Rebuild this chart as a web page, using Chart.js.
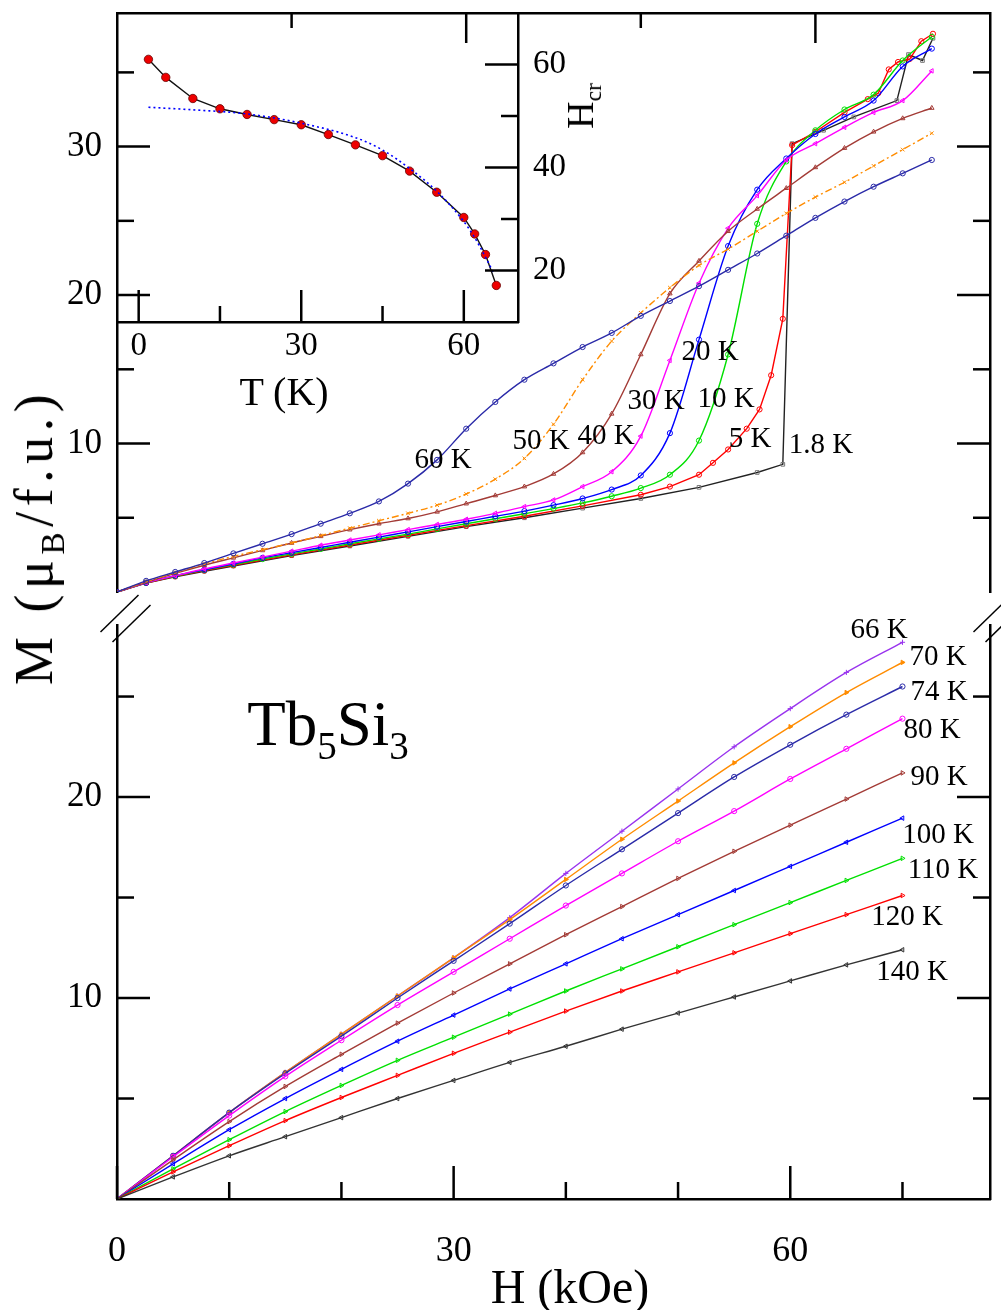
<!DOCTYPE html>
<html>
<head>
<meta charset="utf-8">
<title>Tb5Si3 magnetization</title>
<script src="https://cdn.jsdelivr.net/npm/chart.js@4.4.1/dist/chart.umd.min.js"></script>
<style>
  body { margin: 0; background: #fff; }
  #page { position: relative; width: 1001px; height: 1310px; overflow: hidden;
          font-family: "Liberation Serif", "Times New Roman", serif; color: #000; }
  #page canvas { position: absolute; left: 0; top: 0; }
  .lbl { position: absolute; transform: translate(-50%, -50%); white-space: nowrap; line-height: 1; font-size: 29px; }
  .rot { position: absolute; white-space: nowrap; line-height: 1; transform: translate(-50%, -50%) rotate(-90deg); }
  .sb { position: relative; font-size: 0.62em; top: 0.35em; }
</style>
</head>
<body>
<div id="page">
  <canvas id="upperChart" width="1001" height="1310"></canvas>
  <canvas id="lowerChart" width="1001" height="1310"></canvas>
  <canvas id="insetChart" width="1001" height="1310"></canvas>

  <!-- curve labels, upper panel -->
  <div class="lbl" style="left:443px;top:458px">60 K</div>
  <div class="lbl" style="left:541px;top:439px">50 K</div>
  <div class="lbl" style="left:606px;top:434px">40 K</div>
  <div class="lbl" style="left:656px;top:399px">30 K</div>
  <div class="lbl" style="left:710px;top:350px">20 K</div>
  <div class="lbl" style="left:726px;top:397px">10 K</div>
  <div class="lbl" style="left:750px;top:437px">5 K</div>
  <div class="lbl" style="left:821px;top:443px">1.8 K</div>

  <!-- curve labels, lower panel -->
  <div class="lbl" style="left:879px;top:628px">66 K</div>
  <div class="lbl" style="left:938px;top:655px">70 K</div>
  <div class="lbl" style="left:939px;top:690px">74 K</div>
  <div class="lbl" style="left:932px;top:728px">80 K</div>
  <div class="lbl" style="left:939px;top:775px">90 K</div>
  <div class="lbl" style="left:938px;top:833px">100 K</div>
  <div class="lbl" style="left:943px;top:868px">110 K</div>
  <div class="lbl" style="left:907px;top:915px">120 K</div>
  <div class="lbl" style="left:912px;top:970px">140 K</div>

  <!-- titles -->
  <div class="lbl" style="left:284px;top:392px;font-size:40px">T (K)</div>
  <div class="lbl" style="left:570px;top:1287px;font-size:48px">H (kOe)</div>
  <div class="rot" style="left:34px;top:537px;font-size:54px;letter-spacing:5.5px">M (μ<span class="sb">B</span>/f.u.)</div>
  <div class="rot" style="left:580px;top:106px;font-size:38px">H<span class="sb">cr</span></div>
  <div class="lbl" style="left:328px;top:724px;font-size:63px">Tb<span class="sb">5</span>Si<span class="sb">3</span></div>
</div>

<script>
// ---- upper panel: M(H) below 66 K (kOe, muB/f.u.) ----
const fieldUp = [0, 2.5, 5, 7.5, 10, 12.5, 15, 17.5, 20, 22.5, 25, 27.5, 30, 32.5, 35,
                 37.5, 40, 42.5, 45, 47.5, 50, 52.5, 55, 57.5, 60, 62.5, 65, 67.5, 70];
const m10K = [0, 0.62, 1.08, 1.48, 1.85, 2.22, 2.57, 2.9, 3.25, 3.58, 3.9, 4.25, 4.6, 4.93, 5.27,
              5.62, 6.0, 6.45, 7.0, 7.9, 10.2, 16.0, 24.8, 29.0, 31.1, 32.5, 33.5, 35.8, 37.4];
const m20K = [0, 0.62, 1.1, 1.5, 1.9, 2.3, 2.65, 3.0, 3.35, 3.7, 4.05, 4.4, 4.75, 5.1, 5.45,
              5.85, 6.3, 6.9, 7.85, 10.7, 17.0, 23.3, 27.1, 29.2, 30.85, 32.0, 33.1, 35.4, 36.6];
const m30K = [0, 0.62, 1.1, 1.55, 1.95, 2.35, 2.75, 3.15, 3.5, 3.85, 4.2, 4.55, 4.9, 5.3, 5.75,
              6.2, 7.1, 8.1, 10.5, 15.6, 20.8, 24.5, 26.7, 29.1, 30.2, 31.3, 32.3, 33.1, 35.1];
const m40K = [0, 0.65, 1.25, 1.8, 2.3, 2.8, 3.3, 3.75, 4.2, 4.6, 4.95, 5.4, 5.95, 6.5, 7.1,
              7.95, 9.4, 12.0, 16.0, 20.1, 22.3, 24.3, 25.8, 27.2, 28.6, 29.9, 31.0, 31.9, 32.6];
const m50K = [0, 0.7, 1.3, 1.9, 2.4, 2.85, 3.3, 3.8, 4.3, 4.8, 5.3, 5.85, 6.6, 7.6, 9.0,
              11.3, 14.3, 16.9, 18.8, 20.5, 22.0, 23.1, 24.3, 25.5, 26.6, 27.6, 28.7, 29.8, 30.9];
const m60K = [0, 0.75, 1.35, 1.95, 2.6, 3.25, 3.9, 4.6, 5.3, 6.1, 7.3, 8.9, 11.0, 12.8, 14.3,
              15.4, 16.5, 17.45, 18.6, 19.6, 20.6, 21.7, 22.8, 24.0, 25.2, 26.3, 27.3, 28.2, 29.1];
// the two lowest temperatures jump almost vertically, so they keep their own field points
const field18 = [0, 2.5, 5, 7.5, 10, 15, 20, 25, 30, 35, 40, 45, 50, 55, 57.2,
                 58.0, 60.7, 63.3, 67.0, 68.0, 69.2, 70.1];
const m18K = [0, 0.6, 1.02, 1.4, 1.75, 2.45, 3.1, 3.75, 4.4, 5.0, 5.65, 6.3, 7.05, 8.05, 8.6,
              30.2, 31.1, 32.0, 33.1, 36.2, 35.8, 37.3];
const field5 = [0, 2.5, 5, 7.5, 10, 15, 20, 25, 30, 35, 40, 45, 47.5, 50, 51.2,
                52.5, 54.1, 55.2, 56.2, 57.2, 58.0, 60.0, 62.5, 64.5, 65.4, 66.3, 67.1, 68.1, 69.1, 70.1];
const m5K = [0, 0.61, 1.05, 1.44, 1.8, 2.5, 3.17, 3.82, 4.47, 5.1, 5.8, 6.55, 7.1, 7.9, 8.7,
             9.6, 11.0, 12.3, 14.6, 18.4, 30.1, 31.0, 32.3, 33.2, 33.6, 35.2, 35.7, 35.9, 37.1, 37.6];

// ---- lower panel: M(H) from 66 K to 140 K ----
const fieldLow = [0, 5, 10, 15, 20, 25, 30, 35, 40, 45, 50, 55, 60, 65, 70];
const m66K  = [0, 2.15, 4.3, 6.3, 8.2, 10.1, 12.0, 14.0, 16.2, 18.3, 20.4, 22.5, 24.4, 26.2, 27.7];
const m70K  = [0, 2.15, 4.3, 6.3, 8.2, 10.1, 12.0, 13.9, 15.9, 17.9, 19.8, 21.7, 23.5, 25.2, 26.7];
const m74K  = [0, 2.15, 4.3, 6.25, 8.1, 10.0, 11.85, 13.7, 15.6, 17.4, 19.2, 21.0, 22.6, 24.1, 25.5];
const m80K  = [0, 2.1, 4.15, 6.1, 7.9, 9.65, 11.3, 12.95, 14.6, 16.2, 17.8, 19.3, 20.9, 22.4, 23.9];
const m90K  = [0, 1.95, 3.85, 5.6, 7.2, 8.75, 10.25, 11.7, 13.15, 14.55, 15.95, 17.3, 18.6, 19.9, 21.2];
const m100K = [0, 1.75, 3.45, 5.0, 6.45, 7.85, 9.15, 10.45, 11.7, 12.95, 14.15, 15.35, 16.55, 17.75, 18.95];
const m110K = [0, 1.5, 2.95, 4.35, 5.65, 6.9, 8.05, 9.2, 10.35, 11.45, 12.55, 13.65, 14.75, 15.85, 16.95];
const m120K = [0, 1.35, 2.65, 3.9, 5.05, 6.15, 7.25, 8.3, 9.35, 10.35, 11.3, 12.25, 13.2, 14.15, 15.1];
const m140K = [0, 1.1, 2.15, 3.1, 4.05, 5.0, 5.9, 6.8, 7.6, 8.45, 9.25, 10.05, 10.85, 11.65, 12.4];

// ---- inset: critical field vs temperature ----
const insetT   = [1.8, 5, 10, 15, 20, 25, 30, 35, 40, 45, 50, 55, 60, 62, 64, 66];
const insetHcr = [61.0, 57.5, 53.4, 51.4, 50.3, 49.3, 48.3, 46.4, 44.4, 42.3, 39.3, 35.2, 30.3, 27.1, 23.1, 17.1];
const fitT   = [1.8, 10, 20, 30, 40, 45, 50, 55, 60, 62, 64, 65.5];
const fitHcr = [51.7, 51.2, 50.4, 48.6, 45.8, 43.4, 39.8, 35.4, 29.5, 26.4, 22.6, 19.5];

// ---- tick values ----
const upperYTicks = [10, 20, 30];
const upperYMinor = [5, 15, 25, 35];
const upperTopTicks = [30, 60];
const upperTopMinor = [15, 45];
const lowerXTicks = [0, 30, 60];
const lowerXMinor = [10, 20, 40, 50, 70];
const lowerYTicks = [10, 20];
const lowerYMinor = [5, 15, 25];
const insetXTicks = [0, 30, 60];
const insetXMinor = [15, 45];
const insetYTicks = [20, 40, 60];
const insetYMinor = [30, 50];

const SERIF = '"Liberation Serif", "Times New Roman", serif';
Chart.defaults.font.family = SERIF;
Chart.defaults.color = '#000';

function pts(xs, ys) {
    return xs.map((x, i) => ({ x: x, y: ys[i] }));
}

function curve(xs, ys, color, style, extra) {
    return Object.assign({
        data: pts(xs, ys),
        showLine: true,
        borderColor: color,
        borderWidth: 1.4,
        pointStyle: style,
        pointRadius: 2.6,
        pointBorderWidth: 1,
        pointBorderColor: color,
        pointBackgroundColor: 'rgba(255,255,255,0)',
        cubicInterpolationMode: 'monotone',
        fill: false
    }, extra || {});
}

// axis with a frame line and optional labels at the given values;
// its box gets a fixed size so the layout padding fixes the chart area
function axis(pos, min, max, size, labels, fontSize, pad) {
    const a = {
        type: 'linear', position: pos, min: min, max: max, display: true,
        grid: { drawOnChartArea: false, drawTicks: false },
        border: { display: true, width: 2.5, color: '#000' },
        ticks: { display: false },
        afterFit: s => {
            if (s.isHorizontal()) s.height = size; else s.width = size;
            s.paddingLeft = 0; s.paddingRight = 0; s.paddingTop = 0; s.paddingBottom = 0;
        }
    };
    if (labels) {
        a.ticks = {
            display: true, color: '#000', autoSkip: false, maxRotation: 0, minRotation: 0,
            font: { family: SERIF, size: fontSize }, padding: pad
        };
        a.afterBuildTicks = s => { s.ticks = labels.map(v => ({ value: v })); };
    }
    return a;
}

// inward tick marks on the frame
const inTicks = {
    id: 'inTicks',
    afterDatasetsDraw(chart, args, opts) {
        const ctx = chart.ctx;
        const a = chart.chartArea;
        ctx.save();
        ctx.strokeStyle = '#000';
        ctx.lineWidth = 2.5;
        (opts.marks || []).forEach(m => {
            const s = chart.scales[m.scale];
            m.values.forEach(v => {
                const p = s.getPixelForValue(v);
                ctx.beginPath();
                if (m.side === 'bottom') { ctx.moveTo(p, a.bottom); ctx.lineTo(p, a.bottom - m.len); }
                if (m.side === 'top') { ctx.moveTo(p, a.top); ctx.lineTo(p, a.top + m.len); }
                if (m.side === 'left') { ctx.moveTo(a.left, p); ctx.lineTo(a.left + m.len, p); }
                if (m.side === 'right') { ctx.moveTo(a.right, p); ctx.lineTo(a.right - m.len, p); }
                ctx.stroke();
            });
        });
        ctx.restore();
    }
};

// axis break marks above the lower panel
const breakMarks = {
    id: 'breakMarks',
    afterDraw(chart) {
        const ctx = chart.ctx;
        const a = chart.chartArea;
        ctx.save();
        ctx.strokeStyle = '#000';
        ctx.lineWidth = 1.5;
        [a.left, a.right].forEach(x0 => {
            [[2.5, -11.5], [14.5, -1.5]].forEach(c => {
                ctx.beginPath();
                ctx.moveTo(x0 + c[0] - 19, a.top + c[1] + 18.5);
                ctx.lineTo(x0 + c[0] + 19, a.top + c[1] - 18.5);
                ctx.stroke();
            });
        });
        ctx.restore();
    }
};

const NAVY = '#2a2aa8';
const BROWN = '#a33b36';
const ORANGE = '#ff8c00';
const VIOLET = '#9933ee';
const straight = { cubicInterpolationMode: 'default', tension: 0 };

// ---- upper chart ----
new Chart(document.getElementById('upperChart'), {
    type: 'scatter',
    data: {
        datasets: [
            curve(fieldUp, m60K, NAVY, 'circle'),
            curve(fieldUp, m50K, ORANGE, 'crossRot', { borderDash: [7, 3, 2, 3] }),
            curve(fieldUp, m40K, BROWN, 'triangle'),
            curve(fieldUp, m30K, '#ff00ff', 'triangle', { pointRotation: -90 }),
            curve(fieldUp, m20K, '#0000ff', 'circle'),
            curve(fieldUp, m10K, '#00e000', 'circle'),
            curve(field5, m5K, '#ff0000', 'circle', straight),
            curve(field18, m18K, '#222', 'rect', Object.assign({ pointBorderColor: '#777' }, straight))
        ]
    },
    options: {
        responsive: false,
        animation: false,
        events: [],
        layout: { autoPadding: false, padding: { left: 0, right: 11, top: 13, bottom: 718 } },
        plugins: {
            legend: { display: false },
            tooltip: { enabled: false },
            inTicks: {
                marks: [
                    { scale: 'y', side: 'left', values: upperYTicks, len: 33 },
                    { scale: 'y', side: 'left', values: upperYMinor, len: 17 },
                    { scale: 'y', side: 'right', values: upperYTicks, len: 33 },
                    { scale: 'y', side: 'right', values: upperYMinor, len: 17 },
                    { scale: 'x', side: 'top', values: upperTopTicks, len: 30 },
                    { scale: 'x', side: 'top', values: upperTopMinor, len: 15 }
                ]
            }
        },
        scales: {
            x: axis('top', 0, 75, 0),
            y: axis('left', 0, 39, 117, upperYTicks, 35, 15),
            yRight: axis('right', 0, 39, 0)
        }
    },
    plugins: [inTicks]
});

// ---- lower chart ----
new Chart(document.getElementById('lowerChart'), {
    type: 'scatter',
    data: {
        datasets: [
            curve(fieldLow, m140K, '#333', 'triangle', { pointRotation: -90 }),
            curve(fieldLow, m120K, '#ff0000', 'triangle', { pointRotation: 90 }),
            curve(fieldLow, m110K, '#00e000', 'triangle', { pointRotation: 90 }),
            curve(fieldLow, m100K, '#0000ff', 'triangle', { pointRotation: -90 }),
            curve(fieldLow, m90K, BROWN, 'triangle', { pointRotation: 90 }),
            curve(fieldLow, m80K, '#ff00ff', 'circle'),
            curve(fieldLow, m74K, NAVY, 'circle'),
            curve(fieldLow, m70K, ORANGE, 'triangle', { pointRotation: 90, pointBackgroundColor: ORANGE }),
            curve(fieldLow, m66K, VIOLET, 'cross')
        ]
    },
    options: {
        responsive: false,
        animation: false,
        events: [],
        layout: { autoPadding: false, padding: { left: 0, right: 11, top: 625, bottom: 0 } },
        plugins: {
            legend: { display: false },
            tooltip: { enabled: false },
            inTicks: {
                marks: [
                    { scale: 'x', side: 'bottom', values: lowerXTicks, len: 33 },
                    { scale: 'x', side: 'bottom', values: lowerXMinor, len: 17 },
                    { scale: 'y', side: 'left', values: lowerYTicks, len: 33 },
                    { scale: 'y', side: 'left', values: lowerYMinor, len: 17 },
                    { scale: 'y', side: 'right', values: lowerYTicks, len: 33 },
                    { scale: 'y', side: 'right', values: lowerYMinor, len: 17 }
                ]
            }
        },
        scales: {
            x: axis('bottom', 0, 77.8, 111, lowerXTicks, 36, 31),
            y: axis('left', 0, 28.56, 117, lowerYTicks, 35, 15),
            yRight: axis('right', 0, 28.56, 0)
        }
    },
    plugins: [inTicks, breakMarks]
});

// ---- inset ----
new Chart(document.getElementById('insetChart'), {
    type: 'scatter',
    data: {
        datasets: [
            {
                data: pts(fitT, fitHcr), showLine: true, borderColor: '#0000ff', borderWidth: 1.6,
                borderDash: [2, 3], pointRadius: 0, cubicInterpolationMode: 'monotone'
            },
            {
                data: pts(insetT, insetHcr), showLine: true, borderColor: '#111', borderWidth: 1.4,
                pointRadius: 4.2, pointBackgroundColor: '#ee0000', pointBorderColor: '#660000',
                pointBorderWidth: 0.8
            }
        ]
    },
    options: {
        responsive: false,
        animation: false,
        events: [],
        layout: { autoPadding: false, padding: { left: 117, right: 403, top: 13, bottom: 928 } },
        plugins: {
            legend: { display: false },
            tooltip: { enabled: false },
            inTicks: {
                marks: [
                    { scale: 'x', side: 'bottom', values: insetXTicks, len: 32 },
                    { scale: 'x', side: 'bottom', values: insetXMinor, len: 16 },
                    { scale: 'y', side: 'right', values: insetYTicks, len: 33 },
                    { scale: 'y', side: 'right', values: insetYMinor, len: 17 }
                ]
            }
        },
        scales: {
            x: axis('bottom', -4, 70, 60, insetXTicks, 33, 5),
            y: axis('right', 10, 70, 80, insetYTicks, 33, 15)
        }
    },
    plugins: [inTicks]
});
</script>
</body>
</html>
